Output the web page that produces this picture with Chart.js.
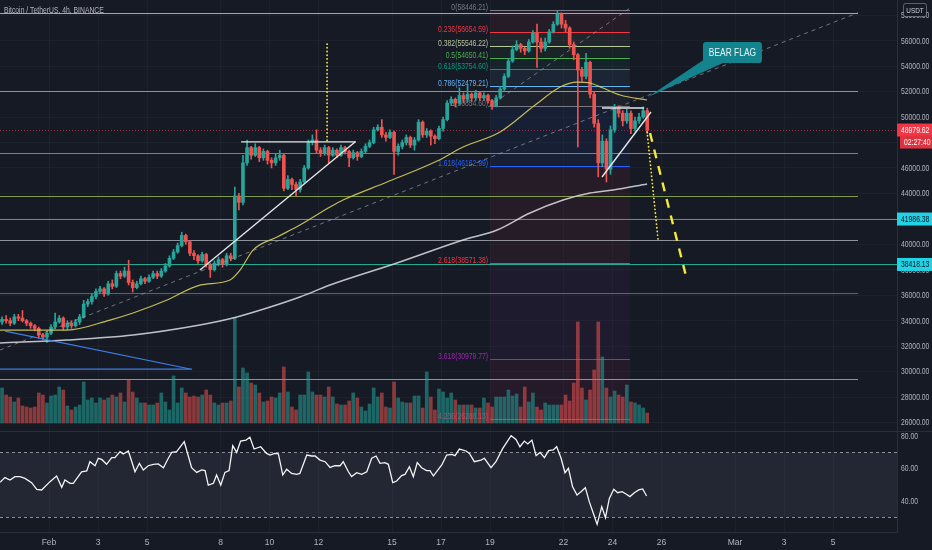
<!DOCTYPE html>
<html>
<head>
<meta charset="utf-8">
<title>BTCUSDT 4h</title>
<script src="https://cdn.jsdelivr.net/npm/chart.js@4.4.1/dist/chart.umd.min.js"></script>
<style>
  html, body { margin: 0; padding: 0; background: #161a25; width: 932px; height: 550px; overflow: hidden; }
  .pane { position: absolute; left: 0; }
</style>
</head>
<body>
<canvas id="priceCanvas" class="pane" style="top:0" width="932" height="431"></canvas>
<canvas id="rsiCanvas" class="pane" style="top:431px" width="932" height="119"></canvas>
<script>
// --- data (4h candles from Jan 30 00:00) ---
const firstOpen = 33900;
const closes = [
  34100, 34000, 33800, 34300, 34200, 34000, 33800, 33600, 33400, 32900, 32700, 33000,
  33500, 33900, 34200, 33500, 33800, 33600, 33900, 34300, 35300, 35500, 35900, 36300,
  36500, 36100, 36900, 36700, 37700, 37500, 37900, 37000, 36600, 36900, 37300, 37100,
  37400, 37700, 37500, 37900, 38300, 38900, 39400, 39900, 40700, 40200, 39300, 39100,
  38700, 39200, 38400, 38000, 38500, 38800, 38400, 39100, 38900, 43800, 43300, 46400,
  47600, 47000, 47600, 46800, 47300, 46600, 46400, 46800, 47000, 44400, 45100, 44700,
  44300, 44900, 46000, 48000, 48200, 47400, 47200, 47600, 47000, 47400, 47000, 47600,
  47300, 46800, 47200, 46900, 47300, 47700, 48000, 49000, 49200, 48600, 48400, 48800,
  47300, 47700, 48000, 48400, 47800, 48200, 49600, 48600, 48900, 48500, 48300, 49100,
  49800, 51100, 51400, 51100, 51700, 51400, 51800, 51500, 51900, 51500, 51700, 51300,
  50900, 51500, 52200, 53200, 54400, 55300, 55700, 55400, 55200, 55900, 56600, 55900,
  55400, 55900, 56700, 57300, 58100, 57300, 57000, 55700, 54900, 53700, 53200, 54300,
  51800, 49500, 46400, 48100, 45900, 49000, 50700, 50300, 49700, 50300, 49100, 49700,
  50000, 50500, 48980
];
const highs = [
  34300, 34400, 34200, 34500, 34500, 34800, 34100, 33900, 33700, 33500, 33000, 33200,
  33700, 34600, 34400, 34300, 34000, 34000, 34100, 34500, 35600, 35700, 36100, 36500,
  36700, 36600, 37100, 37200, 37900, 37900, 38200, 38750, 37200, 37100, 37500, 37400,
  37600, 37900, 37900, 38100, 38500, 39100, 39600, 40100, 40950, 40800, 40300, 39500,
  39200, 39400, 39300, 38500, 38700, 39000, 38900, 39300, 39300, 44500, 44000, 47000,
  48200, 47700, 47900, 47700, 47500, 47400, 46800, 47100, 47400, 47100, 45400, 45200,
  44900, 45100, 46200, 48200, 48600, 49000, 47600, 47800, 47700, 47600, 47500, 47800,
  47700, 47400, 47400, 47300, 47500, 47900, 48200, 49200, 49400, 49800, 48800, 49000,
  48900, 47900, 48200, 48600, 48500, 48400, 49800, 49700, 49100, 49000, 48600, 49300,
  50000, 51300, 51600, 51500, 52300, 51900, 52500, 51900, 52100, 52000, 51900, 51800,
  51400, 51700, 52400, 53400, 54600, 55600, 56000, 55800, 55500, 56100, 56800, 57300,
  56200, 56200, 56900, 57500, 58350, 58200, 57600, 57100, 55900, 55000, 53900, 55000,
  54400, 52000, 49800, 48600, 48300, 49300, 51000, 50900, 50500, 50600, 50500, 50000,
  50300, 50800, 50700
];
const lows = [
  33700, 33800, 33600, 33700, 34000, 33900, 33600, 33400, 33200, 32600, 32500, 32300,
  32900, 33400, 33800, 33300, 33300, 33400, 33500, 33700, 34200, 35100, 35300, 35700,
  36100, 35900, 36000, 36500, 36600, 37300, 37400, 36800, 36250, 36500, 36800, 36900,
  37000, 37300, 37300, 37400, 37800, 38200, 38800, 39300, 39800, 40000, 39100, 38800,
  38500, 38600, 38200, 37400, 37900, 38300, 38200, 38300, 38700, 38800, 42700, 43100,
  46200, 46700, 46900, 46500, 46600, 46300, 46000, 46200, 46600, 44200, 44300, 44300,
  43800, 44100, 44800, 45900, 47800, 47200, 46900, 47000, 46400, 46900, 46800, 46900,
  47100, 46100, 46700, 46600, 46800, 47200, 47600, 47900, 48900, 48400, 48100, 48300,
  45500, 47000, 47500, 47800, 47600, 47400, 48100, 48400, 48400, 47800, 47900, 48200,
  48900, 49700, 50900, 50800, 51000, 51100, 51200, 51200, 51300, 51300, 51300, 51100,
  50600, 50800, 51400, 52100, 53100, 54300, 55200, 55100, 54900, 55100, 55800, 53900,
  55100, 55200, 55800, 56600, 57200, 57000, 56700, 55400, 54500, 47650, 52800, 53000,
  51500, 49200, 45300, 46100, 44900, 45500, 48800, 50000, 49300, 49500, 48700, 48900,
  49500, 49900, 48700
];
const opens = [firstOpen].concat(closes.slice(0, -1));
const volumes = [
  35, 28, 26, 21, 25, 17, 16, 15, 16, 30, 28, 20, 27, 28, 36, 33, 17, 13, 16, 18,
  41, 23, 25, 20, 25, 23, 25, 28, 26, 30, 21, 43, 31, 25, 20, 20, 18, 18, 20, 30,
  21, 13, 47, 20, 35, 30, 26, 27, 26, 28, 33, 28, 20, 18, 20, 20, 22, 105, 36, 55,
  50, 40, 38, 30, 21, 22, 26, 25, 30, 56, 31, 16, 13, 28, 28, 51, 31, 28, 28, 26,
  36, 26, 19, 18, 18, 22, 30, 25, 16, 12, 19, 35, 26, 30, 16, 15, 41, 25, 21, 20,
  20, 27, 27, 15, 51, 26, 13, 34, 31, 25, 30, 23, 18, 18, 18, 18, 15, 15, 25, 20,
  16, 26, 26, 26, 33, 27, 29, 16, 36, 21, 30, 16, 13, 20, 18, 18, 18, 18, 28, 22,
  40, 101, 35, 23, 33, 53, 101, 66, 35, 26, 32, 28, 26, 38, 21, 20, 18, 15, 10
];

const ma50Days = [-1, 1.73, 3.49, 4.43, 5.82, 7.16, 8.39, 8.80, 9.33, 10.31, 11.24, 12.47,
  13.0, 14.80, 16.84, 17.90, 19.41, 20.84, 21.86, 22.55, 23.08, 23.61, 24.31, 25.41];
const ma50 = [33263, 33263, 34049, 34600, 35621, 36800, 37193, 37979, 39550, 40572, 41515, 42930,
  43480, 44895, 46545, 47645, 48824, 50946, 52361, 52754, 52675, 52282, 51732, 51339];
const ma200Days = [-1, 1.73, 4.43, 7.16, 8.51, 9.90, 11.24, 12.47, 15.20, 17.90, 19.29, 20.63,
  21.98, 23.08, 24.02, 25.41];
const ma200 = [32242, 32477, 32870, 33656, 34206, 34992, 35857, 36800, 38529, 40336, 41122, 42458,
  43480, 44030, 44266, 44738];

const rsiDays = [-1.00, -0.80, -0.59, -0.39, -0.18, 0.02, 0.29, 0.50, 0.70, 1.04,
  1.31, 1.52, 1.65, 1.86, 1.99, 2.33, 2.54, 2.67, 2.88, 3.01,
  3.15, 3.35, 3.56, 3.69, 3.90, 4.03, 4.24, 4.51, 4.69, 4.85,
  5.05, 5.26, 5.46, 5.67, 5.87, 6.01, 6.21, 6.52, 6.82, 7.03,
  7.23, 7.37, 7.50, 7.71, 7.84, 8.01, 8.18, 8.35, 8.50, 8.66,
  8.82, 9.04, 9.20, 9.37, 9.64, 9.88, 10.02, 10.22, 10.36, 10.54,
  10.70, 10.90, 11.11, 11.24, 11.52, 11.72, 11.86, 12.06, 12.27, 12.47,
  12.67, 12.88, 13.01, 13.22, 13.35, 13.56, 13.76, 13.97, 14.17, 14.35,
  14.51, 14.71, 14.85, 15.03, 15.19, 15.39, 15.53, 15.71, 15.87, 16.03,
  16.21, 16.41, 16.55, 16.69, 17.03, 17.23, 17.44, 17.57, 17.75, 18.02,
  18.16, 18.36, 18.63, 18.77, 19.04, 19.24, 19.52, 19.86, 20.06, 20.22,
  20.40, 20.54, 20.71, 20.88, 21.04, 21.22, 21.39, 21.58, 21.72, 21.90,
  22.06, 22.20, 22.37, 22.55, 22.71, 22.89, 23.05, 23.23, 23.37, 23.56,
  23.71, 23.87, 24.05, 24.21, 24.39, 24.55, 24.71, 24.89, 25.07, 25.23, 25.39];
const rsiValues = [51.5, 54.4, 52.9, 55.0, 55.0, 53.9, 51.3, 47.2, 46.8, 51.9,
  55.4, 48.4, 52.9, 50.9, 50.9, 58.0, 58.5, 64.2, 61.7, 66.3,
  65.6, 62.6, 66.7, 66.7, 70.4, 68.9, 70.8, 58.0, 63.2, 59.1,
  61.7, 62.6, 62.8, 60.5, 66.3, 69.9, 70.4, 76.5, 60.5, 57.6,
  59.1, 58.7, 49.8, 50.9, 56.0, 49.8, 57.6, 58.7, 74.0, 69.9,
  76.9, 77.5, 79.2, 72.0, 73.4, 69.3, 68.3, 69.3, 69.1, 56.0,
  59.5, 57.0, 56.4, 57.0, 68.3, 67.7, 67.7, 65.2, 64.2, 60.7,
  61.7, 61.7, 64.2, 58.0, 55.0, 57.4, 56.4, 58.0, 66.3, 67.7,
  63.2, 63.6, 62.6, 51.3, 52.3, 55.6, 56.4, 61.1, 55.0, 63.6,
  60.5, 58.7, 58.7, 55.4, 62.2, 68.3, 68.7, 67.9, 72.0, 70.8,
  69.3, 64.2, 65.2, 66.3, 60.5, 64.2, 72.4, 80.2, 77.9, 73.4,
  76.9, 75.1, 77.5, 67.9, 69.9, 66.7, 71.0, 71.4, 73.4, 66.3,
  57.4, 60.1, 48.8, 43.7, 45.7, 48.2, 39.6, 31.8, 25.6, 36.5,
  29.7, 41.6, 47.2, 45.1, 45.7, 44.3, 42.7, 45.1, 46.8, 47.4, 43.1];

// horizontal levels drawn by the author
const levelPrices = [58200, 52070, 47150, 43770, 41986.38, 40376, 38418.13, 36148, 29389];
const levelColors = ['#a3a6af', '#5b9cf6', '#22ab94', '#7d9c45', '#22ab94', '#8f929b', '#22ab94', '#c9363f', '#8f929b'];
const levelLabelled = [false, false, false, false, true, false, true, false, false];

// fibonacci extension
const fibRatios = ['0', '0.236', '0.382', '0.5', '0.618', '0.786', '1', '1.618', '2.618', '3.618', '4.236'];
const fibPrices = [58446.21, 56654.59, 55546.22, 54650.41, 53754.60, 52479.21, 50854.60, 46162.99, 38571.38, 30979.77, 26288.13];
const fibColors = ['#787b86', '#f23645', '#b5c99a', '#4caf50', '#089981', '#64b5f6', '#787b86', '#2962ff', '#f23645', '#9c27b0', '#e91e63'];
const fibSpan = [19.0, 24.71];

// trend lines: [day1, price1, day2, price2]
const whiteLines = [[7.16, 37979, 13.49, 48038], [8.84, 48050, 13.53, 48050],
  [23.57, 50710, 25.29, 50710], [23.57, 45287, 25.57, 50396]];
const blueLines = [[-0.80, 33184, 6.76, 30200], [-1, 30198, 6.84, 30198]];
const greyDashed = [[-1, 31691, 34.02, 58200], [18.92, 50789, 24.71, 58569]];
const yellowDotted = [[12.35, 55740, 12.35, 47960], [25.41, 48824, 25.86, 40336]];
const yellowDashed = [[25.53, 48745, 27.04, 37193]];
const bearFlag = { text: 'BEAR FLAG', boxDay: 27.69, boxPrice: 55897, tipDay: 25.45, tipPrice: 51575 };

const lastPrice = 48979.62;
const countdown = '02:27:40';
const drawEndDay = 34.02;

const dayTicks = [1, 3, 5, 8, 10, 12, 15, 17, 19, 22, 24, 26, 29, 31, 33];
const dayLabels = ['Feb', '3', '5', '8', '10', '12', '15', '17', '19', '22', '24', '26', 'Mar', '3', '5'];
const priceTicks = [26000, 28000, 30000, 32000, 34000, 36000, 38000, 40000, 42000, 44000, 46000, 48000, 50000, 52000, 54000, 56000, 58000];
const rsiTicks = [40, 60, 80];

// --- look ---
const FONT = '"Liberation Sans", Arial, sans-serif';
const SQUEEZE = 0.8;
const UP = '#26a69a', DOWN = '#ef5350';
const TEXT = '#b2b5be';
const GRID = 'rgba(255,255,255,0.03)';
const candleDay = i => -1 + (i + 0.5) / 6;
const isUp = i => closes[i] >= opens[i];

function line(ctx, x1, y1, x2, y2) {
  ctx.beginPath(); ctx.moveTo(x1, y1); ctx.lineTo(x2, y2); ctx.stroke();
}
// TradingView's UI font is narrow; squeeze the canvas text a little
function text(ctx, str, x, y, align, size) {
  ctx.save();
  ctx.font = size + 'px ' + FONT;
  ctx.translate(x, y);
  ctx.scale(SQUEEZE, 1);
  ctx.textAlign = align;
  ctx.fillText(str, 0, 0);
  ctx.restore();
}
function axisLabels(chart, scale, values) {
  const { ctx, chartArea: a } = chart;
  ctx.save();
  ctx.fillStyle = TEXT;
  ctx.textBaseline = 'middle';
  values.forEach(v => text(ctx, v.toFixed(2), a.right + 4, scale.getPixelForValue(v) + 0.5, 'left', 8.5));
  ctx.restore();
}

const priceOverlay = {
  id: 'priceOverlay',
  beforeDatasetsDraw(chart) {
    const { ctx, chartArea: a, scales: { x, y } } = chart;
    const X = d => x.getPixelForValue(d), Y = p => y.getPixelForValue(p);
    ctx.save();
    ctx.beginPath(); ctx.rect(a.left, a.top, a.right - a.left, a.bottom - a.top); ctx.clip();

    // fib background bands
    const fx0 = X(fibSpan[0]), fx1 = X(fibSpan[1]);
    ctx.globalAlpha = 0.07;
    for (let k = 0; k < fibPrices.length - 1; k++) {
      ctx.fillStyle = fibColors[k + 1];
      ctx.fillRect(fx0, Y(fibPrices[k]), fx1 - fx0, Y(fibPrices[k + 1]) - Y(fibPrices[k]));
    }
    ctx.globalAlpha = 1;

    // author's horizontal levels
    ctx.lineWidth = 1.2;
    levelPrices.forEach((p, k) => {
      ctx.strokeStyle = levelColors[k];
      const py = Math.round(Y(p)) + 0.5;
      line(ctx, a.left, py, levelLabelled[k] ? a.right : X(drawEndDay), py);
    });

    // fib lines and labels
    ctx.lineWidth = 1;
    ctx.textBaseline = 'bottom';
    fibPrices.forEach((p, k) => {
      const py = Math.round(Y(p)) + 0.5;
      ctx.strokeStyle = fibColors[k];
      line(ctx, fx0, py, fx1, py);
      ctx.fillStyle = fibColors[k];
      text(ctx, fibRatios[k] + '(' + p.toFixed(2) + ')', fx0 - 2, py + 1, 'right', 8.5);
    });

    // current price line
    ctx.strokeStyle = 'rgba(242,54,69,0.6)';
    ctx.setLineDash([1, 2]);
    const ly = Math.round(Y(lastPrice)) + 0.5;
    line(ctx, a.left, ly, a.right, ly);
    ctx.setLineDash([]);
    ctx.restore();
  },
  afterDatasetsDraw(chart) {
    const { ctx, chartArea: a, scales: { x, y } } = chart;
    const X = d => x.getPixelForValue(d), Y = p => y.getPixelForValue(p);
    const seg = s => line(ctx, X(s[0]), Y(s[1]), X(s[2]), Y(s[3]));
    ctx.save();
    ctx.beginPath(); ctx.rect(a.left, a.top, a.right - a.left, a.bottom - a.top); ctx.clip();

    ctx.lineWidth = 1;
    ctx.strokeStyle = 'rgba(160,164,174,0.65)';
    ctx.setLineDash([4, 4]);
    greyDashed.forEach(seg);
    ctx.setLineDash([]);

    ctx.strokeStyle = '#3d7ee8';
    ctx.lineWidth = 1.2;
    blueLines.forEach(seg);

    ctx.strokeStyle = '#e6e7ea';
    ctx.lineWidth = 1.4;
    whiteLines.forEach(seg);

    ctx.strokeStyle = '#f5e93a';
    ctx.lineCap = 'round';
    ctx.lineWidth = 1.8;
    ctx.setLineDash([0.1, 3.6]);
    yellowDotted.forEach(seg);
    ctx.lineCap = 'butt';
    ctx.lineWidth = 2.4;
    ctx.setLineDash([9, 8]);
    yellowDashed.forEach(seg);
    ctx.setLineDash([]);

    // callout
    const bx = X(bearFlag.boxDay), by = Y(bearFlag.boxPrice), bw = 59, bh = 21;
    ctx.fillStyle = '#13848e';
    ctx.beginPath();
    ctx.moveTo(X(bearFlag.tipDay), Y(bearFlag.tipPrice));
    ctx.lineTo(bx + 2, by + bh - 4);
    ctx.lineTo(bx + 20, by + bh);
    ctx.closePath(); ctx.fill();
    ctx.beginPath();
    ctx.roundRect(bx, by, bw, bh, 3);
    ctx.fill();
    ctx.fillStyle = '#e8f6f6';
    ctx.textBaseline = 'middle';
    text(ctx, bearFlag.text, bx + bw / 2, by + bh / 2 + 0.5, 'center', 10.5);
    ctx.restore();
  },
  afterDraw(chart) {
    const { ctx, chartArea: a, scales: { y } } = chart;
    const Y = p => y.getPixelForValue(p);
    axisLabels(chart, y, priceTicks);
    ctx.save();
    ctx.textBaseline = 'middle';
    const box = (str, cy, x0, fill, color) => {
      ctx.fillStyle = fill;
      ctx.fillRect(x0, cy - 6.5, chart.width - x0, 13);
      ctx.fillStyle = color;
      text(ctx, str, x0 + 4, cy + 0.5, 'left', 8.5);
    };
    levelPrices.forEach((p, k) => {
      if (levelLabelled[k]) box(p.toFixed(2), Y(p), a.right, '#22d3e6', '#10141d');
    });
    const py = Y(lastPrice);
    box(lastPrice.toFixed(2), py, a.right, '#f23645', '#ffffff');
    box(countdown, py + 12, a.right + 3, '#e0313f', '#ffffff');

    // currency tag
    ctx.fillStyle = '#161a25';
    ctx.strokeStyle = 'rgba(178,181,190,0.45)';
    ctx.beginPath(); ctx.roundRect(903.5, 3.5, 23, 13, 2); ctx.fill(); ctx.stroke();
    ctx.fillStyle = '#d1d4dc';
    text(ctx, 'USDT', 915, 10.5, 'center', 8);

    // symbol title
    ctx.fillStyle = TEXT;
    text(ctx, 'Bitcoin / TetherUS, 4h, BINANCE', 4, 10.5, 'left', 8.5);
    ctx.restore();
  }
};

const rsiOverlay = {
  id: 'rsiOverlay',
  beforeDatasetsDraw(chart) {
    const { ctx, chartArea: a, scales: { y } } = chart;
    const top = y.getPixelForValue(70), bottom = y.getPixelForValue(30);
    ctx.save();
    ctx.fillStyle = 'rgba(130,134,155,0.12)';
    ctx.fillRect(a.left, top, a.right - a.left, bottom - top);
    ctx.strokeStyle = 'rgba(190,193,202,0.7)';
    ctx.lineWidth = 1;
    ctx.setLineDash([3, 3]);
    line(ctx, a.left, Math.round(top) + 0.5, a.right, Math.round(top) + 0.5);
    line(ctx, a.left, Math.round(bottom) + 0.5, a.right, Math.round(bottom) + 0.5);
    ctx.restore();
  },
  afterDraw(chart) {
    const { ctx } = chart;
    axisLabels(chart, chart.scales.y, rsiTicks);
    ctx.save();
    ctx.strokeStyle = '#2a2e39';
    ctx.lineWidth = 1;
    line(ctx, 0, 0.5, chart.width, 0.5);
    ctx.restore();
  }
};

const fixedY = (w) => (s) => { s.width = w; s.paddingTop = 0; s.paddingBottom = 0; };
const xRange = { type: 'linear', min: -1, max: 35.61, offset: false };

new Chart(document.getElementById('priceCanvas'), {
  type: 'bar',
  data: {
    datasets: [
      {
        type: 'line', label: 'MA 50', order: 1,
        data: ma50Days.map((d, i) => ({ x: d, y: ma50[i] })),
        borderColor: 'rgba(214,206,92,0.9)', borderWidth: 1.2, pointRadius: 0,
        cubicInterpolationMode: 'monotone'
      },
      {
        type: 'line', label: 'MA 200', order: 1,
        data: ma200Days.map((d, i) => ({ x: d, y: ma200[i] })),
        borderColor: 'rgba(222,223,228,0.85)', borderWidth: 1.5, pointRadius: 0,
        cubicInterpolationMode: 'monotone'
      },
      {
        label: 'Body', order: 2, grouped: false, barThickness: 3, minBarLength: 1,
        data: closes.map((c, i) => ({ x: candleDay(i), y: [opens[i], c] })),
        backgroundColor: c => isUp(c.dataIndex) ? UP : DOWN
      },
      {
        label: 'Wick', order: 3, grouped: false, barThickness: 1,
        data: highs.map((h, i) => ({ x: candleDay(i), y: [lows[i], h] })),
        backgroundColor: c => isUp(c.dataIndex) ? UP : DOWN
      },
      {
        label: 'Volume', order: 4, grouped: false, barThickness: 3, yAxisID: 'vol',
        data: volumes.map((v, i) => ({ x: candleDay(i), y: v })),
        backgroundColor: c => isUp(c.dataIndex) ? 'rgba(38,166,154,0.55)' : 'rgba(239,83,80,0.55)'
      }
    ]
  },
  options: {
    responsive: false,
    animation: false,
    events: [],
    layout: { padding: 0 },
    plugins: { legend: { display: false }, tooltip: { enabled: false } },
    scales: {
      x: Object.assign({}, xRange, {
        ticks: { display: false },
        grid: { color: GRID, drawTicks: false, offset: false },
        border: { display: false },
        afterBuildTicks: s => { s.ticks = dayTicks.map(v => ({ value: v })); },
        afterFit: s => { s.height = 0; s.paddingLeft = 0; s.paddingRight = 0; }
      }),
      y: {
        position: 'right', min: 25330, max: 59200,
        afterBuildTicks: s => { s.ticks = priceTicks.map(v => ({ value: v })); },
        afterFit: fixedY(35),
        ticks: { display: false },
        grid: { color: GRID, drawTicks: false },
        border: { color: '#2a2e39' }
      },
      vol: { display: false, min: -8, max: 423 }
    }
  },
  plugins: [priceOverlay]
});

new Chart(document.getElementById('rsiCanvas'), {
  type: 'line',
  data: {
    datasets: [{
      label: 'RSI 14',
      data: rsiDays.map((d, i) => ({ x: d, y: rsiValues[i] })),
      borderColor: '#f4f4f6', borderWidth: 1.3, pointRadius: 0, tension: 0
    }]
  },
  options: {
    responsive: false,
    animation: false,
    events: [],
    layout: { padding: 0 },
    plugins: { legend: { display: false }, tooltip: { enabled: false } },
    scales: {
      x: Object.assign({}, xRange, {
        afterBuildTicks: s => { s.ticks = dayTicks.map(v => ({ value: v })); },
        afterFit: s => { s.height = 18; s.paddingLeft = 0; s.paddingRight = 0; },
        ticks: {
          color: TEXT, font: { size: 8.5, family: FONT }, padding: 6,
          autoSkip: false, maxRotation: 0,
          callback: (v, i) => dayLabels[i]
        },
        grid: { color: GRID, drawTicks: false },
        border: { color: '#2a2e39' }
      }),
      y: {
        position: 'right', min: 20.9, max: 83.1,
        afterBuildTicks: s => { s.ticks = rsiTicks.map(v => ({ value: v })); },
        afterFit: fixedY(35),
        ticks: { display: false },
        grid: { display: false },
        border: { color: '#2a2e39' }
      }
    }
  },
  plugins: [rsiOverlay]
});
</script>
</body>
</html>
